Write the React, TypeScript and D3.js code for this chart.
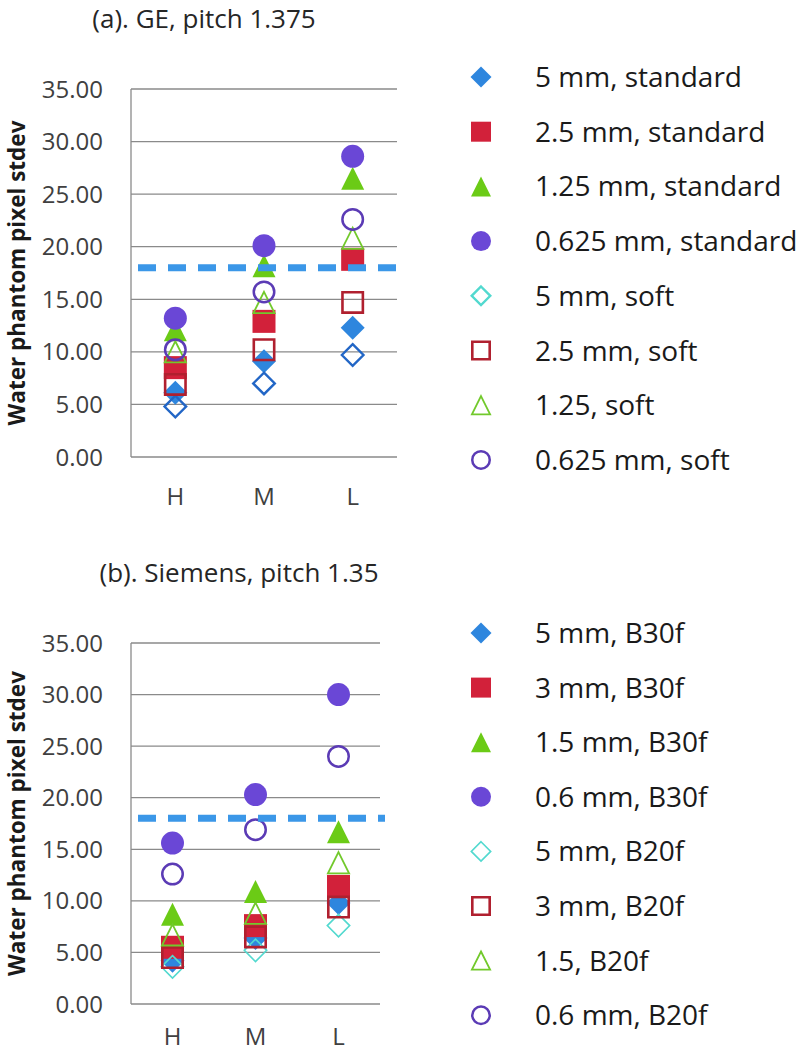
import React from 'react';
import * as d3 from 'd3';

// ---------- data ----------
const categories = ['H', 'M', 'L'];
const yTicks = [0, 5, 10, 15, 20, 25, 30, 35];
const threshold = 18;
const yAxisTitle = 'Water phantom pixel stdev';

const geTitle = '(a). GE, pitch 1.375';
const geLabels = [
  '5 mm, standard',
  '2.5 mm, standard',
  '1.25 mm, standard',
  '0.625 mm, standard',
  '5 mm, soft',
  '2.5 mm, soft',
  '1.25, soft',
  '0.625 mm, soft',
];
const ge5Std = [6.1, 9.1, 12.3];
const ge25Std = [8.5, 12.9, 18.8];
const ge125Std = [12.1, 18.2, 26.5];
const ge0625Std = [13.2, 20.1, 28.6];
const ge5Soft = [4.8, 7.0, 9.7];
const ge25Soft = [6.9, 10.2, 14.7];
const ge125Soft = [10.0, 14.7, 20.8];
const ge0625Soft = [10.2, 15.7, 22.6];

const siTitle = '(b). Siemens, pitch 1.35';
const siLabels = [
  '5 mm, B30f',
  '3 mm, B30f',
  '1.5 mm, B30f',
  '0.6 mm, B30f',
  '5 mm, B20f',
  '3 mm, B20f',
  '1.5, B20f',
  '0.6 mm, B20f',
];
const si5B30 = [4.2, 6.4, 9.8];
const si3B30 = [5.5, 7.6, 11.4];
const si15B30 = [8.7, 10.9, 16.7];
const si06B30 = [15.6, 20.3, 30.0];
const si5B20 = [3.6, 5.2, 7.6];
const si3B20 = [4.5, 6.5, 9.4];
const si15B20 = [6.7, 8.8, 13.7];
const si06B20 = [12.6, 16.9, 24.0];

// ---------- styles ----------
type Shape = 'diamond' | 'square' | 'triangle' | 'circle';
interface Style {
  shape: Shape;
  filled: boolean;
  color: string;
  legendColor: string;
  sw: number;
}

const BLUE = '#2E86DE';
const RED = '#D2213A';
const GREEN = '#6BCB16';
const PURPLE = '#6A47D6';
const CYAN = '#52D9CF';
const DKRED = '#B0202F';
const OGREEN = '#72C92C';
const DKPURPLE = '#5B3BB5';

const geStyles: Style[] = [
  { shape: 'diamond', filled: true, color: BLUE, legendColor: BLUE, sw: 0 },
  { shape: 'square', filled: true, color: RED, legendColor: RED, sw: 0 },
  { shape: 'triangle', filled: true, color: GREEN, legendColor: GREEN, sw: 0 },
  { shape: 'circle', filled: true, color: PURPLE, legendColor: PURPLE, sw: 0 },
  { shape: 'diamond', filled: false, color: '#2266C6', legendColor: CYAN, sw: 2.4 },
  { shape: 'square', filled: false, color: DKRED, legendColor: DKRED, sw: 2.6 },
  { shape: 'triangle', filled: false, color: OGREEN, legendColor: OGREEN, sw: 1.8 },
  { shape: 'circle', filled: false, color: DKPURPLE, legendColor: DKPURPLE, sw: 2.5 },
];
const siStyles: Style[] = geStyles.map((s, i) =>
  i === 4 ? { ...s, color: CYAN, sw: 1.6 } : s
);

function shapeEl(st: Style, cx: number, cy: number, s: number, key: string, color: string) {
  const fill = st.filled ? color : 'none';
  const stroke = st.filled ? 'none' : color;
  const sw = st.filled ? 0 : st.sw;
  if (st.shape === 'circle') {
    return <circle key={key} cx={cx} cy={cy} r={st.filled ? s : s - sw / 2} fill={fill} stroke={stroke} strokeWidth={sw} />;
  }
  let d = '';
  const h = st.filled ? s : s - sw / 2;
  if (st.shape === 'diamond') {
    d = `M${cx},${cy - h - 0.5}L${cx + h + 0.5},${cy}L${cx},${cy + h + 0.5}L${cx - h - 0.5},${cy}Z`;
  } else if (st.shape === 'square') {
    d = `M${cx - h},${cy - h}h${2 * h}v${2 * h}h${-2 * h}Z`;
  } else {
    d = `M${cx},${cy - h}L${cx + h},${cy + h}L${cx - h},${cy + h}Z`;
  }
  return <path key={key} d={d} fill={fill} stroke={stroke} strokeWidth={sw} strokeLinejoin="miter" />;
}

interface PanelCfg {
  id: string;
  title: string;
  titleX: number;
  titleY: number;
  labels: string[];
  series: number[][];
  styles: Style[];
  yRange: [number, number];
  xRange: [number, number];
  xLabelY: number;
  legendY0: number;
  legendStep: number;
}

const panels: PanelCfg[] = [
  {
    id: 'a',
    title: geTitle,
    titleX: 204,
    titleY: 28,
    labels: geLabels,
    series: [ge5Std, ge25Std, ge125Std, ge0625Std, ge5Soft, ge25Soft, ge125Soft, ge0625Soft],
    styles: geStyles,
    yRange: [457, 89],
    xRange: [131, 397],
    xLabelY: 505,
    legendY0: 77,
    legendStep: 54.7,
  },
  {
    id: 'b',
    title: siTitle,
    titleX: 239,
    titleY: 582,
    labels: siLabels,
    series: [si5B30, si3B30, si15B30, si06B30, si5B20, si3B20, si15B20, si06B20],
    styles: siStyles,
    yRange: [1004, 643],
    xRange: [131, 380],
    xLabelY: 1045,
    legendY0: 633,
    legendStep: 54.6,
  },
];

const FONT = '"Open Sans", "Noto Sans", sans-serif';

function Panel({ p }: { p: PanelCfg }) {
  const y = d3.scaleLinear().domain([0, 35]).range(p.yRange);
  const x = d3.scaleBand<string>().domain(categories).range(p.xRange).padding(0);
  const cx = (c: string) => (x(c) ?? 0) + x.bandwidth() / 2;
  const [x0, x1] = p.xRange;
  const yMid = (p.yRange[0] + p.yRange[1]) / 2;
  return (
    <g>
      <text x={p.titleX} y={p.titleY} textAnchor="middle" fontFamily={FONT} fontSize={26} fill="#262626">
        {p.title}
      </text>
      {yTicks.map((t) => (
        <line key={'g' + t} x1={x0} x2={x1} y1={y(t)} y2={y(t)} stroke="#8A8A8A" strokeWidth={1.3} />
      ))}
      <line x1={x0} x2={x0} y1={y(0)} y2={y(35)} stroke="#8A8A8A" strokeWidth={1.3} />
      {yTicks.map((t) => (
        <text key={'t' + t} x={103} y={y(t)} dy="0.36em" textAnchor="end" fontFamily={FONT} fontSize={24} fill="#404040">
          {t.toFixed(2)}
        </text>
      ))}
      <text
        transform={`translate(25,${yMid}) rotate(-90)`}
        textAnchor="middle"
        fontFamily={FONT}
        fontWeight="bold"
        fontSize={22.5}
        fill="#1a1a1a"
      >
        {yAxisTitle}
      </text>
      {categories.map((c) => (
        <text key={'x' + c} x={cx(c)} y={p.xLabelY} textAnchor="middle" fontFamily={FONT} fontSize={24} fill="#404040">
          {c}
        </text>
      ))}
      {p.series.map((vals, si) =>
        vals.map((v, ci) => shapeEl(p.styles[si], cx(categories[ci]), y(v), 11.5, `${p.id}-${si}-${ci}`, p.styles[si].color))
      )}
      <line
        x1={138}
        x2={x1 + 5}
        y1={y(threshold)}
        y2={y(threshold)}
        stroke="#3B97E8"
        strokeWidth={7}
        strokeDasharray="18 12"
      />
      {p.labels.map((lab, i) => {
        const ly = p.legendY0 + i * p.legendStep;
        return (
          <g key={'l' + i}>
            {shapeEl(p.styles[i], 481, ly, 10, `${p.id}-leg-${i}`, p.styles[i].legendColor)}
            <text x={535} y={ly + 10} fontFamily={FONT} fontSize={28} fill="#1a1a1a">
              {lab}
            </text>
          </g>
        );
      })}
    </g>
  );
}

export default function App() {
  return (
    <svg width={798} height={1053} style={{ position: 'absolute', left: 0, top: 0, background: '#fff' }}>
      <rect x={0} y={0} width={798} height={1053} fill="#fff" />
      {panels.map((p) => (
        <Panel key={p.id} p={p} />
      ))}
    </svg>
  );
}
